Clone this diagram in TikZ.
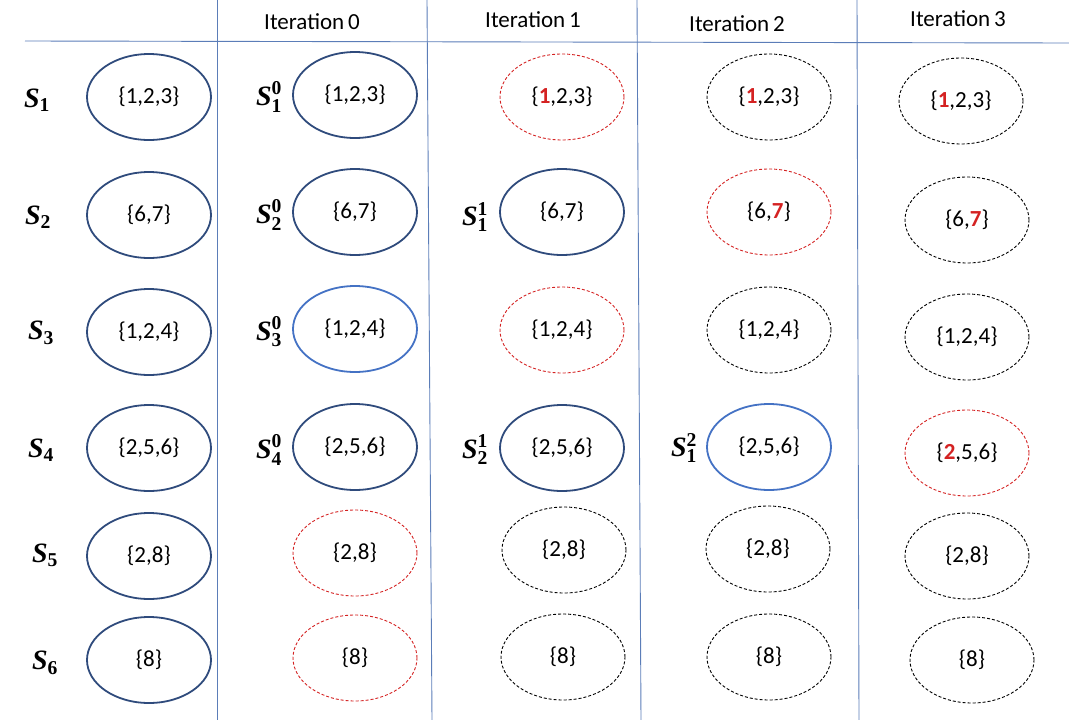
\documentclass[tikz,border=0pt]{standalone}
\usepackage{amsmath}
\usepackage{fontspec}
\setmainfont{Carlito}
\newfontfamily\labfont{Liberation Serif}
\usetikzlibrary{shapes.geometric}
\definecolor{dkblue}{HTML}{2F4B7C}
\definecolor{ltblue}{HTML}{4472C4}
\definecolor{gridcol}{HTML}{5B7DB8}
\definecolor{myred}{HTML}{D42222}
\tikzset{
  setbase/.style={ellipse, minimum width=124pt, minimum height=86pt, inner sep=0pt, font=\fontsize{23}{26}\selectfont},
  sol/.style={setbase, draw=dkblue, line width=1.8pt},
  ltsol/.style={setbase, draw=ltblue, line width=1.8pt},
  rdash/.style={setbase, draw=myred, line width=0.9pt, dash pattern=on 3pt off 2pt},
  bdash/.style={setbase, draw=black, line width=0.9pt, dash pattern=on 3pt off 2pt},
  slab/.style={font=\fontsize{28}{30}\selectfont, inner sep=0pt},
  head/.style={font=\fontsize{23}{26}\selectfont, inner sep=0pt},
  grid line/.style={draw=gridcol, line width=0.9pt}
}
\newcommand{\rd}[1]{{\color{myred}\textbf{#1}}}
\newcommand{\lb}[1]{\text{\labfont\bfseries #1}}
\newcommand{\Sa}[1]{$\lb{\itshape S}_{\lb{#1}}$}
\newcommand{\Sb}[2]{$\lb{\itshape S}_{\lb{#1}}^{\lb{#2}}$}
\begin{document}
\begin{tikzpicture}[x=1pt,y=-1pt]
\useasboundingbox (0,0) rectangle (1069,720);
% table lines
\coordinate (h0) at (25,41);
\coordinate (h1) at (1069,43);
\coordinate (v1t) at (217,0);
\coordinate (v1b) at (217,720);
\coordinate (v2t) at (427,0);
\coordinate (v2b) at (432,720);
\coordinate (v3t) at (637,0);
\coordinate (v3b) at (641,720);
\coordinate (v4t) at (857,0);
\coordinate (v4b) at (859,720);
\draw[grid line] (h0) -- (h1);
\draw[grid line] (v1t) -- (v1b);
\draw[grid line] (v2t) -- (v2b);
\draw[grid line] (v3t) -- (v3b);
\draw[grid line] (v4t) -- (v4b);
% headers
\node[head] (t0) at (312,22) {Iteration\,0};
\node[head] (t1) at (533,20) {Iteration\,1};
\node[head] (t2) at (737,24) {Iteration\,2};
\node[head] (t3) at (958,19) {Iteration\,3};
% column 0
\node[slab] (l1) at (37,100) {\Sa{1}};
\node[slab] (l2) at (38,217) {\Sa{2}};
\node[slab] (l3) at (41,333) {\Sa{3}};
\node[slab] (l4) at (41,450) {\Sa{4}};
\node[slab] (l5) at (45,555) {\Sa{5}};
\node[slab] (l6) at (45,663) {\Sa{6}};
\node[sol] (a1) at (149,97) {\{1,2,3\}};
\node[sol] (a2) at (149,215) {\{6,7\}};
\node[sol] (a3) at (149,332) {\{1,2,4\}};
\node[sol] (a4) at (149,448) {\{2,5,6\}};
\node[sol] (a5) at (149,556) {\{2,8\}};
\node[sol] (a6) at (149,660) {\{8\}};
% column 1 (iteration 0)
\node[slab] (m1) at (269,97) {\Sb{1}{0}};
\node[slab] (m2) at (269,215) {\Sb{2}{0}};
\node[slab] (m3) at (269,332) {\Sb{3}{0}};
\node[slab] (m4) at (269,450) {\Sb{4}{0}};
\node[sol] (b1) at (355,95) {\{1,2,3\}};
\node[sol] (b2) at (355,212) {\{6,7\}};
\node[ltsol] (b3) at (355,329) {\{1,2,4\}};
\node[sol] (b4) at (355,447) {\{2,5,6\}};
\node[rdash] (b5) at (355,553) {\{2,8\}};
\node[rdash] (b6) at (355,658) {\{8\}};
% column 2 (iteration 1)
\node[slab] (n2) at (475,217) {\Sb{1}{1}};
\node[slab] (n4) at (475,450) {\Sb{2}{1}};
\node[rdash] (c1) at (562,97) {\{\rd{1},2,3\}};
\node[sol] (c2) at (562,212) {\{6,7\}};
\node[rdash] (c3) at (562,330) {\{1,2,4\}};
\node[sol] (c4) at (562,448) {\{2,5,6\}};
\node[bdash] (c5) at (564,550) {\{2,8\}};
\node[bdash] (c6) at (563,657) {\{8\}};
% column 3 (iteration 2)
\node[slab] (o4) at (684,448) {\Sb{1}{2}};
\node[bdash] (d1) at (769,97) {\{\rd{1},2,3\}};
\node[rdash] (d2) at (769,212) {\{6,\rd{7}\}};
\node[bdash] (d3) at (769,330) {\{1,2,4\}};
\node[ltsol] (d4) at (769,447) {\{2,5,6\}};
\node[bdash] (d5) at (768,549) {\{2,8\}};
\node[bdash] (d6) at (769,657) {\{8\}};
% column 4 (iteration 3)
\node[bdash] (e1) at (961,101) {\{\rd{1},2,3\}};
\node[bdash] (e2) at (967,220) {\{6,\rd{7}\}};
\node[bdash] (e3) at (967,337) {\{1,2,4\}};
\node[rdash] (e4) at (967,453) {\{\rd{2},5,6\}};
\node[bdash] (e5) at (967,556) {\{2,8\}};
\node[bdash] (e6) at (972,660) {\{8\}};
\end{tikzpicture}
\end{document}
